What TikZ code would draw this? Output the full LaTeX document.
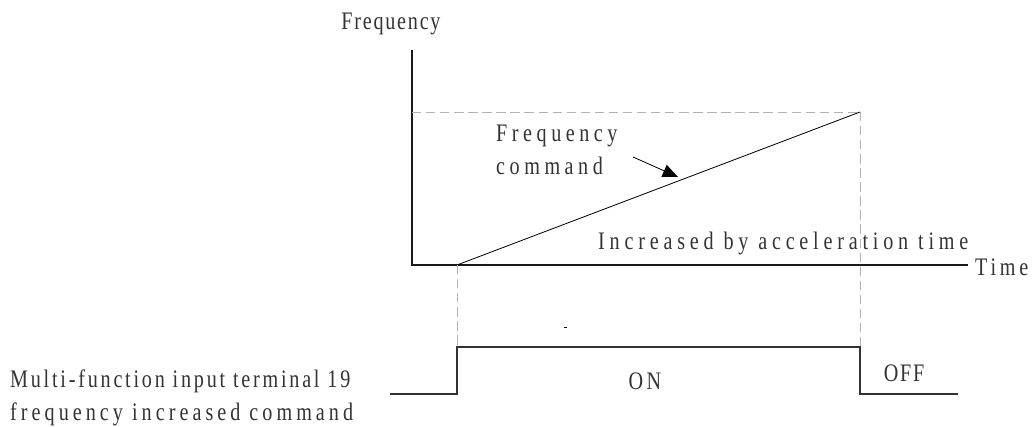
\documentclass[tikz,border=0pt]{standalone}
\usepackage{fontspec}
\setmainfont{Liberation Serif}[FakeStretch=0.8]
\usetikzlibrary{arrows.meta,positioning}
\newcommand{\spaced}[1]{\addfontfeature{LetterSpace=#1}}
\tikzset{%
  axisline/.style={line width=1.6pt,black!90},
  guide/.style={gray!60,line width=0.6pt,dash pattern=on 8pt off 4pt},
  pulse/.style={black!80,line width=0.9pt},
  lbl/.style={font=\fontsize{21.5}{25}\selectfont,text=black!80,inner sep=0pt}
}

\begin{document}
\begin{tikzpicture}[x=0.03cm,y=-0.03cm]
\useasboundingbox (0,0) rectangle (1036,427);

% ---- axes ----
\coordinate (orig) at (412,265);
\coordinate (ytop) at (412,50);
\coordinate (xend) at (968,265);
\draw[axisline] (ytop) -- (orig) -- (xend);
\node[lbl,anchor=west] (tlab) at (975,267) {\spaced{15}Time};
\node[lbl] (flab) at (391,24) {\spaced{7}Frequency};

% ---- ramp ----
\coordinate (rs) at (457,265);
\coordinate (re) at (860,112);
\coordinate (fy) at (412,112);
\draw[guide] (fy) -- (re);
\draw[black,line width=0.7pt] (rs) -- (re);

% ---- guides down to pulse ----
\coordinate (pl) at (457,347);
\coordinate (pr) at (860,347);
\draw[guide] (rs) -- (pl);
\draw[guide] (re) -- (pr);

% ---- pulse ----
\coordinate (p0) at (390,394);
\coordinate (p1) at (457,394);
\coordinate (p4) at (860,394);
\coordinate (p5) at (958,394);
\draw[pulse] (p0) -- (p1) -- (pl) -- (pr) -- (p4) -- (p5);

% ---- labels ----
\node[lbl,anchor=west,align=left] (fcmd) at (496,150) {\spaced{18}Frequency\\[3pt]\spaced{18}command};
\coordinate (atip) at (678,177);
\draw[black,line width=0.7pt,-{Triangle[length=13pt,width=11pt]}] (633,157) -- (atip);
\node[lbl,anchor=west] (incr) at (598,243) {\spaced{19}Increased by acceleration time};
\node[lbl] (on) at (645,381) {\spaced{14}ON};
\node[lbl] (off) at (904,373) {\spaced{7}OFF};
\node[lbl,anchor=west] (mf1) at (10,381) {\spaced{11}Multi-function input terminal 19};
\node[lbl,anchor=west] (mf2) at (10,414) {\spaced{16}frequency increased command};
\draw[black,line width=0.6pt] (564,327) -- (567,327);
\end{tikzpicture}
\end{document}
